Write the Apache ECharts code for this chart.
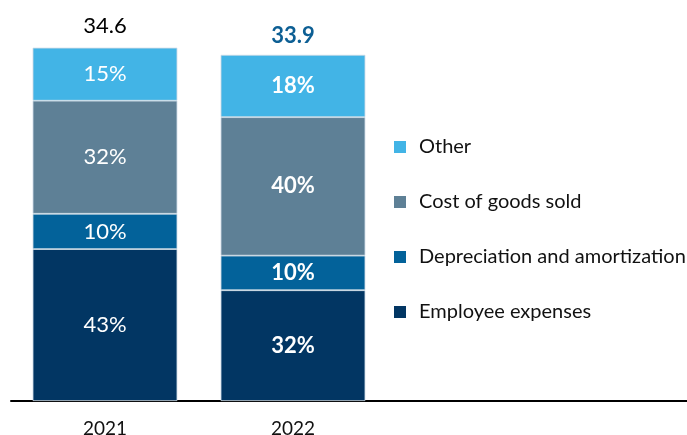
<!DOCTYPE html>
<html>
<head>
<meta charset="utf-8">
<script src="https://cdn.jsdelivr.net/npm/echarts@6/dist/echarts.min.js"></script>
<style>
  html, body { margin: 0; padding: 0; background: #fff; }
  #chart { width: 687px; height: 435px; }
</style>
</head>
<body>
<div id="chart"></div>
<script>
// data
const years = ['2021', '2022']
const totals = [34.6, 33.9]
const employeePct = [43, 32]
const deprPct = [10, 10]
const cogsPct = [32, 40]
const otherPct = [15, 18]

const names = ['Employee expenses', 'Depreciation and amortization', 'Cost of goods sold', 'Other']
const colors = ['#023663', '#03629a', '#5e8096', '#42b4e6']
const pcts = [employeePct, deprPct, cogsPct, otherPct]

const chart = echarts.init(document.getElementById('chart'))
const font = 'Lato, "Open Sans", sans-serif'

// one stacked bar series per cost type, segment height = share of total
const barSeries = names.map((name, i) => ({
    name: name,
    type: 'bar',
    stack: 'total',
    barWidth: '77%',
    itemStyle: {
        color: colors[i],
        borderColor: '#cbd9e5',
        borderWidth: 0.8
    },
    data: years.map((y, j) => ({
        value: +(pcts[i][j] / 100 * totals[j]).toFixed(3),
        label: {
            show: true,
            position: 'inside',
            formatter: pcts[i][j] + '%',
            color: '#fff',
            fontFamily: font,
            fontSize: 22,
            fontWeight: j === 1 ? 'bold' : 'normal'
        }
    }))
}))

// totals over the bars
const totalSeries = {
    type: 'scatter',
    symbolSize: 0,
    silent: true,
    itemStyle: { opacity: 1 },
    data: totals.map((t, j) => ({
        value: t,
        label: {
            show: true,
            position: 'top',
            distance: j === 0 ? 11 : 8,
            formatter: t.toFixed(1),
            fontFamily: font,
            fontSize: 22,
            color: j === 0 ? '#000' : '#0d5f94',
            fontWeight: j === 0 ? 'normal' : 'bold'
        }
    }))
}

chart.setOption({
    animation: false,
    legend: {
        orient: 'vertical',
        left: 389,
        top: 132,
        itemWidth: 12,
        itemHeight: 12,
        itemGap: 35,
        icon: 'rect',
        itemStyle: { borderWidth: 0 },
        data: ['Other', 'Cost of goods sold', 'Depreciation and amortization', 'Employee expenses'],
        textStyle: {
            fontFamily: font,
            fontSize: 20,
            color: '#111',
            lineHeight: 20,
            padding: [0, 0, 0, 8]
        }
    },
    grid: [
        { left: 11, width: 376, top: 13, bottom: 34, outerBoundsMode: 'none' },
        { left: 11, right: 0, top: 13, bottom: 34, outerBoundsMode: 'none' }   // only for the long baseline
    ],
    xAxis: [
        {
            type: 'category',
            gridIndex: 0,
            data: years,
            axisLine: { show: false },
            axisTick: { show: false },
            axisLabel: {
                color: '#111',
                fontFamily: font,
                fontSize: 19,
                margin: 18
            }
        },
        {
            type: 'value',
            gridIndex: 1,
            min: 0,
            max: 1,
            axisLine: { show: true, onZero: false, lineStyle: { color: '#000', width: 2 } },
            axisTick: { show: false },
            axisLabel: { show: false },
            splitLine: { show: false }
        }
    ],
    yAxis: [
        { type: 'value', gridIndex: 0, min: 0, max: 38, show: false },
        { type: 'value', gridIndex: 1, min: 0, max: 1, show: false }
    ],
    series: [...barSeries, totalSeries]
})
</script>
</body>
</html>
